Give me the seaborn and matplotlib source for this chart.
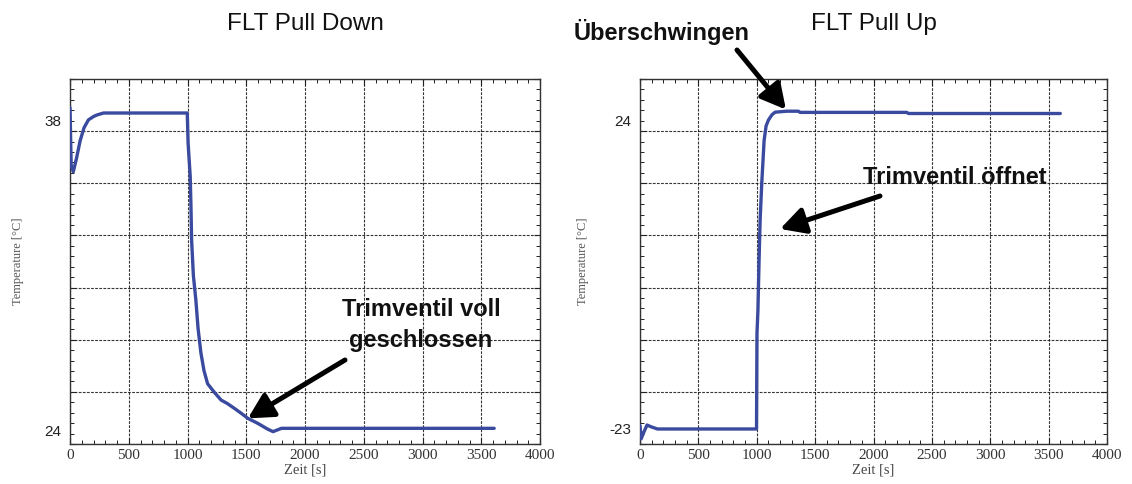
import numpy as np
import pandas as pd
import matplotlib
matplotlib.use("Agg")
import matplotlib.pyplot as plt
from matplotlib.ticker import FixedLocator, MultipleLocator, NullFormatter
import seaborn as sns

# Pull-down run: time [s] and temperature
down_t = [0, 10, 28, 55, 86, 120, 157, 200, 229, 286, 600, 998, 1005, 1023, 1030,
          1035, 1050, 1071, 1090, 1114, 1140, 1171, 1230, 1286, 1340, 1400, 1460,
          1514, 1600, 1680, 1728, 1800, 2500, 3610]
down_y = [38.6, 36.0, 35.7, 36.3, 37.1, 37.7, 38.05, 38.2, 38.27, 38.36, 38.36, 38.36,
          37.0, 35.5, 34.0, 32.6, 31.0, 29.9, 28.6, 27.5, 26.7, 26.1, 25.7, 25.36, 25.2,
          24.98, 24.75, 24.53, 24.3, 24.05, 23.93, 24.08, 24.08, 24.08]

# Pull-up run: time [s] and temperature
up_t = [0, 10, 30, 60, 100, 150, 500, 998, 1002, 1010, 1020, 1029, 1043, 1063, 1080,
        1100, 1130, 1157, 1257, 1357, 1371, 2285, 2300, 3600]
up_y = [-22.5, -24.5, -23.6, -22.4, -22.7, -23.0, -23.0, -23.0, -8.4, -5.0, 2.8, 8.9,
        14.5, 21.0, 23.2, 24.1, 24.9, 25.3, 25.45, 25.45, 25.27, 25.27, 25.1, 25.1]

x_ticks = list(range(0, 4001, 500))
down_labels = [24, 38]
up_labels = [-23, 24]
down_ylim = (23.37, 39.90)
up_ylim = (-25.29, 30.36)

sns.set_style("ticks")
plt.rcParams["font.family"] = ["Liberation Sans", "DejaVu Sans"]

fig = plt.figure(figsize=(11.32, 4.84), dpi=100)
W, H = 1132, 484
ax_l = fig.add_axes([70 / W, 1 - 444 / H, 470 / W, 365 / H])
ax_r = fig.add_axes([640 / W, 1 - 444 / H, 467 / W, 365 / H])

line_color = "#3a4a9e"
serif = ["Liberation Serif", "DejaVu Serif"]


def style_axes(ax, ylim, labels, title):
    ax.set_xlim(0, 4000)
    ax.set_ylim(*ylim)
    ax.xaxis.set_major_locator(FixedLocator(x_ticks))
    ax.xaxis.set_minor_locator(MultipleLocator(100))
    ax.set_xticklabels([str(v) for v in x_ticks], family=serif, fontsize=11, color="#333333")

    # 7 equal grid bands across the height, with 5 small ticks per band
    grid_y = np.linspace(ylim[0], ylim[1], 8)
    sub_y = np.linspace(ylim[0], ylim[1], 36)
    ax.yaxis.set_major_locator(FixedLocator(grid_y))
    ax.yaxis.set_major_formatter(NullFormatter())
    ax.yaxis.set_minor_locator(FixedLocator(sub_y))

    ax.tick_params(which="both", direction="in", top=True, right=True, color="#222222")
    ax.tick_params(which="major", length=4, width=0.8)
    ax.tick_params(which="minor", length=3, width=0.7)
    ax.grid(which="major", color="#111111", linestyle=(0, (2.5, 1.2)), linewidth=0.8, alpha=0.85)
    for s in ax.spines.values():
        s.set_visible(True)
        s.set_color("#333333")
        s.set_linewidth(1.0)

    # value labels on the left edge
    sec = ax.secondary_yaxis("left")
    sec.set_yticks(labels)
    sec.set_yticklabels([str(v) for v in labels], fontsize=11, color="#222222")
    sec.tick_params(length=0, pad=6)
    sec.spines["left"].set_visible(False)

    ax.set_ylabel("")
    ax.set_xlabel("Zeit [s]", family=serif, fontsize=10.5, color="#444444", labelpad=1)
    sec.set_ylabel("Temperature [°C]", family=serif, fontsize=9, color="#555555", labelpad=15)
    ax.set_title(title, fontsize=17.5, color="#111111", pad=35)


df_down = pd.DataFrame({"t": down_t, "T": down_y})
df_up = pd.DataFrame({"t": up_t, "T": up_y})
sns.lineplot(data=df_down, x="t", y="T", ax=ax_l, color=line_color, linewidth=2.4, zorder=3)
sns.lineplot(data=df_up, x="t", y="T", ax=ax_r, color=line_color, linewidth=2.4, zorder=3)

style_axes(ax_l, down_ylim, down_labels, "FLT Pull Down")
style_axes(ax_r, up_ylim, up_labels, "FLT Pull Up")

arrow = dict(arrowstyle="-|>,head_length=1.5,head_width=0.8", color="black", lw=3.6,
             shrinkA=0, shrinkB=0)
bold = dict(fontsize=17, fontweight="bold", color="#111111")

ax_l.annotate("Trimventil voll\ngeschlossen", xy=(421 / W, 1 - 325 / H), xycoords="figure fraction",
              ha="center", va="center", linespacing=1.45, **bold)
ax_l.annotate("", xy=(1514, 24.53), xycoords="data",
              xytext=(345 / W, 1 - 360 / H), textcoords="figure fraction", arrowprops=arrow)

ax_r.annotate("Überschwingen", xy=(662 / W, 1 - 32 / H), xycoords="figure fraction",
              ha="center", va="center", **bold)
ax_r.annotate("", xy=(1250, 25.7), xycoords="data",
              xytext=(737 / W, 1 - 50 / H), textcoords="figure fraction", arrowprops=arrow)

ax_r.annotate("Trimventil öffnet", xy=(955 / W, 1 - 178 / H), xycoords="figure fraction",
              ha="center", va="center", **bold)
ax_r.annotate("", xy=(1200, 7.5), xycoords="data",
              xytext=(880 / W, 1 - 196 / H), textcoords="figure fraction", arrowprops=arrow)

fig.savefig("out.png", dpi=100, facecolor="white")
